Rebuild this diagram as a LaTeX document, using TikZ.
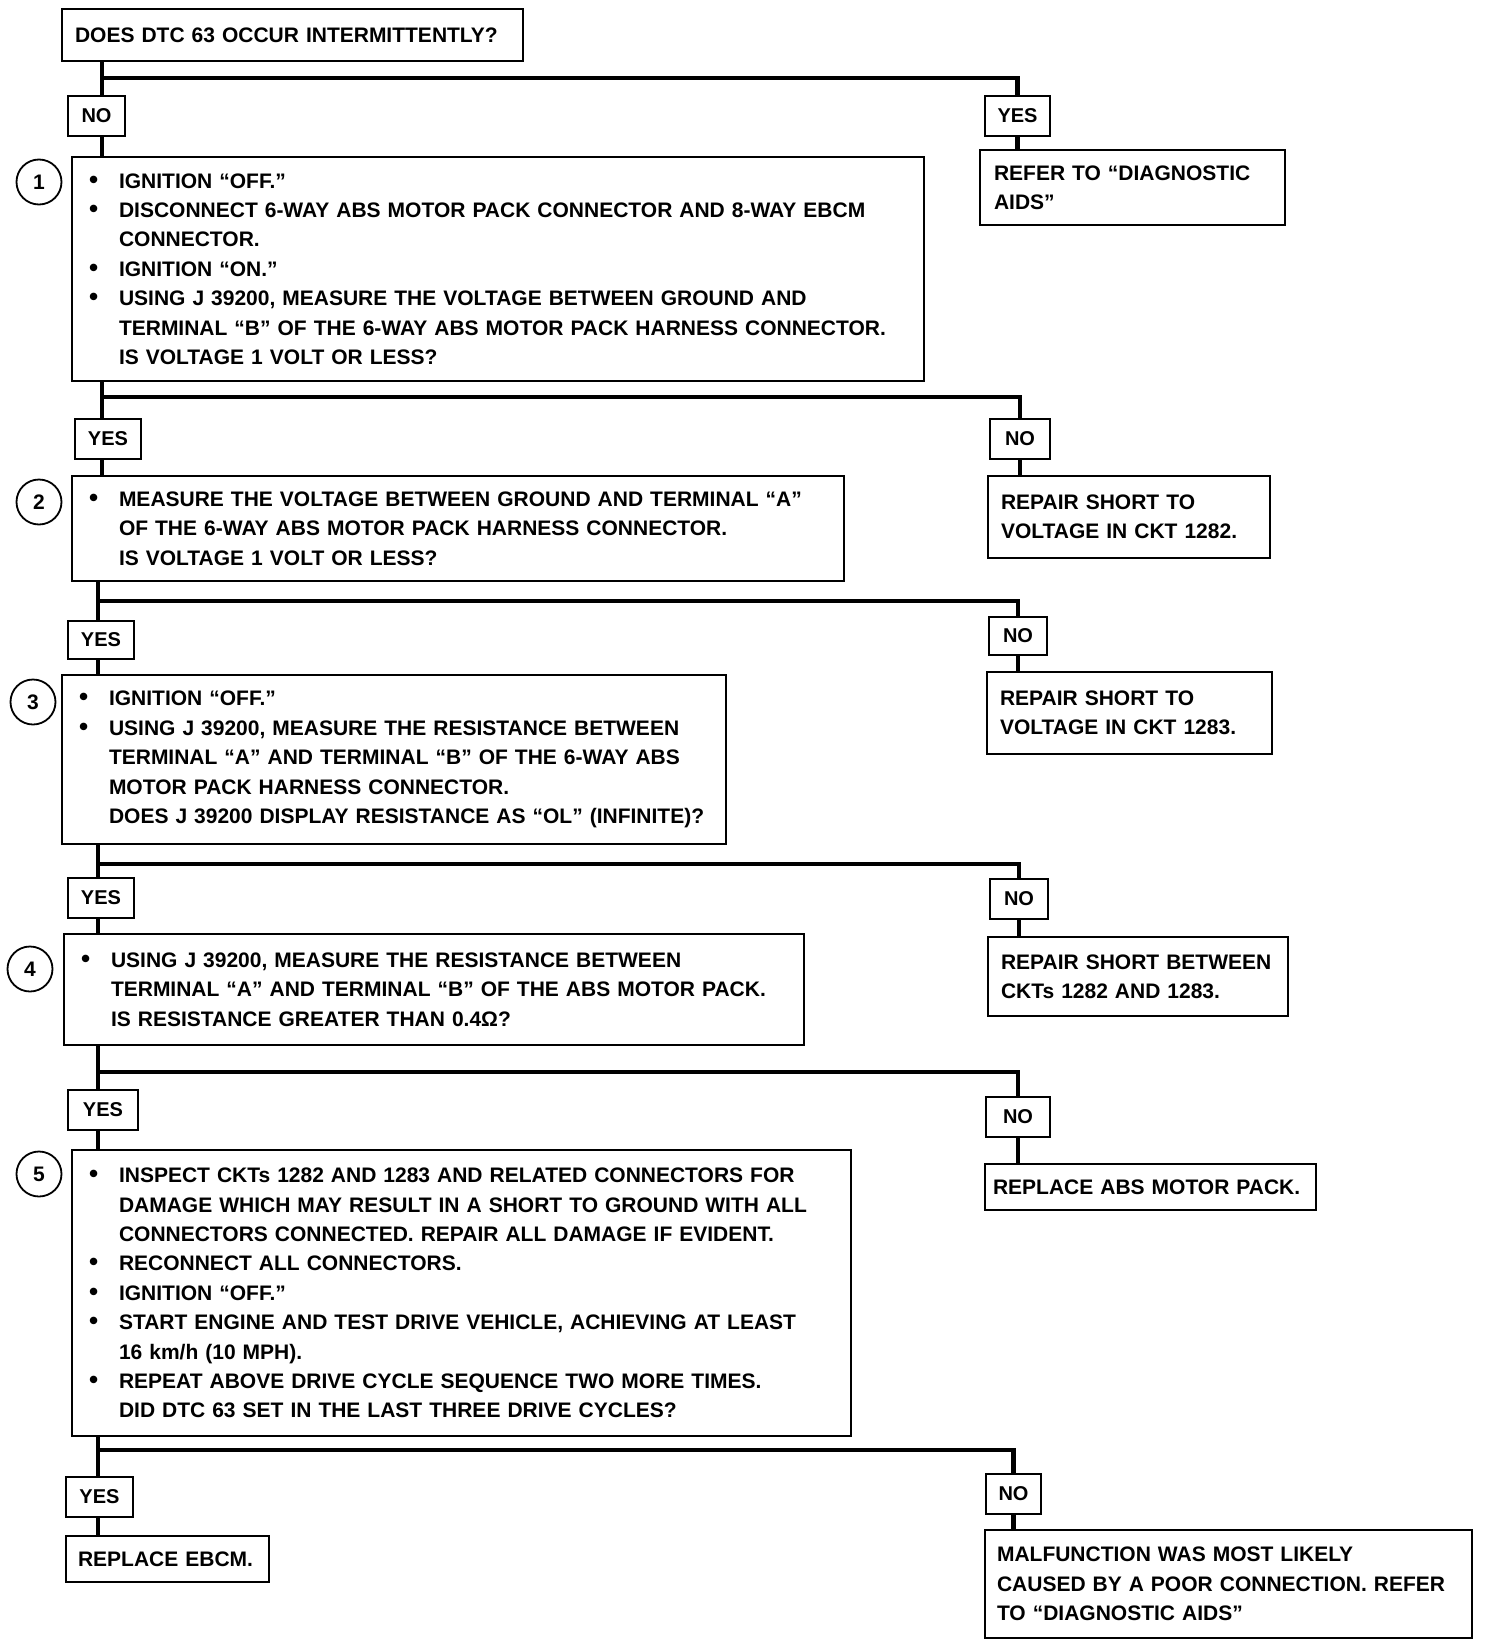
\documentclass[tikz,border=0pt]{standalone}
\usepackage{fontspec}
\setmainfont{Liberation Sans}
\usetikzlibrary{positioning}

\newcommand{\bul}{\makebox[30pt][l]{\fontsize{26}{0}\selectfont\textbullet}}
\newcommand{\ind}{\hspace*{30pt}}
\tikzset{
  chk/.style={draw,line width=2pt,anchor=north west,align=left,inner xsep=17pt,inner ysep=0pt,
    font=\bfseries\fontsize{21}{29.4}\selectfont},
  ans/.style={draw,line width=2pt,anchor=north west,inner sep=0pt,font=\bfseries\fontsize{20}{22}\selectfont},
  stepnum/.style={draw,circle,line width=1.8pt,minimum size=45pt,inner sep=0pt,font=\bfseries\fontsize{21}{22}\selectfont},
  flow/.style={line width=4.5pt,line join=miter}
}

\begin{document}
\begin{tikzpicture}[x=1pt,y=-1pt]
\useasboundingbox (0,0) rectangle (1488,1648);
\node[chk,inner xsep=13pt,text width=435pt,minimum height=52pt] (q0) at (61,8) {DOES DTC 63 OCCUR INTERMITTENTLY?};
\node[ans,minimum width=57pt,minimum height=40pt] (no1) at (67,95) {NO};
\node[ans,minimum width=65pt,minimum height=40pt] (yes1) at (984,95) {YES};
\node[chk,text width=818pt,minimum height=224pt] (b1) at (71,156) {\bul IGNITION ``OFF.''\\
\bul DISCONNECT 6-WAY ABS MOTOR PACK CONNECTOR AND 8-WAY EBCM\\ \ind CONNECTOR.\\
\bul IGNITION ``ON.''\\
\bul USING J 39200, MEASURE THE VOLTAGE BETWEEN GROUND AND\\
\ind TERMINAL ``B'' OF THE 6-WAY ABS MOTOR PACK HARNESS CONNECTOR.\\
\ind IS VOLTAGE 1 VOLT OR LESS?};
\node[chk,inner xsep=14pt,text width=277pt,minimum height=75pt] (refer) at (979,149) {REFER TO ``DIAGNOSTIC\\ AIDS''};

\node[ans,minimum width=66pt,minimum height=40pt] (yes2) at (74,418) {YES};
\node[ans,minimum width=60pt,minimum height=40pt] (no2) at (989,418) {NO};
\node[chk,text width=738pt,minimum height=105pt] (b2) at (71,475) {\bul MEASURE THE VOLTAGE BETWEEN GROUND AND TERMINAL ``A''\\
\ind OF THE 6-WAY ABS MOTOR PACK HARNESS CONNECTOR.\\
\ind IS VOLTAGE 1 VOLT OR LESS?};
\node[chk,inner xsep=13pt,text width=256pt,minimum height=82pt] (rep1) at (987,475) {REPAIR SHORT TO\\ VOLTAGE IN CKT 1282.};

\node[ans,minimum width=66pt,minimum height=38pt] (yes3) at (67,620) {YES};
\node[ans,minimum width=58pt,minimum height=38pt] (no3) at (988,616) {NO};
\node[chk,text width=630pt,minimum height=169pt] (b3) at (61,674) {\bul IGNITION ``OFF.''\\
\bul USING J 39200, MEASURE THE RESISTANCE BETWEEN\\
\ind TERMINAL ``A'' AND TERMINAL ``B'' OF THE 6-WAY ABS\\
\ind MOTOR PACK HARNESS CONNECTOR.\\
\ind DOES J 39200 DISPLAY RESISTANCE AS ``OL'' (INFINITE)?};
\node[chk,inner xsep=13pt,text width=259pt,minimum height=82pt] (rep2) at (986,671) {REPAIR SHORT TO\\ VOLTAGE IN CKT 1283.};

\node[ans,minimum width=66pt,minimum height=40pt] (yes4) at (67,877) {YES};
\node[ans,minimum width=58pt,minimum height=40pt] (no4) at (989,878) {NO};
\node[chk,text width=706pt,minimum height=111pt] (b4) at (63,933) {\bul USING J 39200, MEASURE THE RESISTANCE BETWEEN\\
\ind TERMINAL ``A'' AND TERMINAL ``B'' OF THE ABS MOTOR PACK.\\
\ind IS RESISTANCE GREATER THAN 0.4Ω?};
\node[chk,inner xsep=13pt,text width=274pt,minimum height=79pt] (rep3) at (987,936) {REPAIR SHORT BETWEEN\\ CKTs 1282 AND 1283.};

\node[ans,minimum width=70pt,minimum height=40pt] (yes5) at (67,1089) {YES};
\node[ans,minimum width=64pt,minimum height=40pt] (no5) at (985,1096) {NO};
\node[chk,text width=745pt,minimum height=286pt] (b5) at (71,1149) {\bul INSPECT CKTs 1282 AND 1283 AND RELATED CONNECTORS FOR\\
\ind DAMAGE WHICH MAY RESULT IN A SHORT TO GROUND WITH ALL\\
\ind CONNECTORS CONNECTED. REPAIR ALL DAMAGE IF EVIDENT.\\
\bul RECONNECT ALL CONNECTORS.\\
\bul IGNITION ``OFF.''\\
\bul START ENGINE AND TEST DRIVE VEHICLE, ACHIEVING AT LEAST\\
\ind 16 km/h (10 MPH).\\
\bul REPEAT ABOVE DRIVE CYCLE SEQUENCE TWO MORE TIMES.\\
\ind DID DTC 63 SET IN THE LAST THREE DRIVE CYCLES?};
\node[chk,inner xsep=8pt,text width=315pt,minimum height=46pt] (rep4) at (984,1163) {REPLACE ABS MOTOR PACK.};

\node[ans,minimum width=67pt,minimum height=40pt] (yes6) at (65,1476) {YES};
\node[ans,minimum width=55pt,minimum height=40pt] (no6) at (985,1473) {NO};
\node[chk,inner xsep=12pt,text width=179pt,minimum height=46pt] (ebcm) at (65,1535) {REPLACE EBCM.};
\node[chk,inner xsep=12pt,text width=463pt,minimum height=108pt] (malf) at (984,1529) {MALFUNCTION WAS MOST LIKELY\\
CAUSED BY A POOR CONNECTION. REFER\\ TO ``DIAGNOSTIC AIDS''};

\node[stepnum] at (39,182) {1};\node[stepnum] at (39,502) {2};\node[stepnum] at (33,702) {3};
\node[stepnum] at (30,969) {4};\node[stepnum] at (39,1174) {5};

\coordinate (s1) at (102,78);\coordinate (s2) at (102,397);\coordinate (s3) at (98,601);
\coordinate (s4) at (98,864);\coordinate (s5) at (98,1072);\coordinate (s6) at (98,1450);
\foreach \sp/\up/\lf/\rt/\lo/\ro in {s1/q0/no1/yes1/b1/refer,s2/b1/yes2/no2/b2/rep1,s3/b2/yes3/no3/b3/rep2,
  s4/b3/yes4/no4/b4/rep3,s5/b4/yes5/no5/b5/rep4,s6/b5/yes6/no6/ebcm/malf}{
  \draw[flow] (\up.south -| \sp) -- (\lf.north -| \sp) (\lf.south -| \sp) -- (\lo.north -| \sp);
  \draw[flow] (\sp) -| (\rt.north) (\rt.south) -- (\ro.north -| \rt.south);
}
\end{tikzpicture}
\end{document}
